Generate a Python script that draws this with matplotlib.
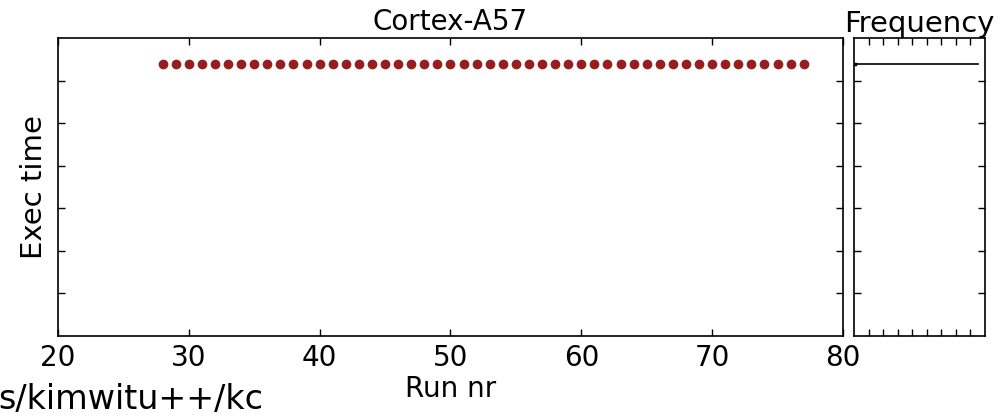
import numpy as np
import matplotlib
matplotlib.use("Agg")
import matplotlib.pyplot as plt

# data
run_nr = list(range(28, 78))
exec_time = [0.0638] * len(run_nr)
title = "Cortex-A57"
bench = "s/kimwitu++/kc"

dot_color = "#961e1e"

fig = plt.figure(figsize=(10.04, 4.2), dpi=100)
ax = fig.add_axes([58 / 1004, 84 / 420, 785 / 1004, 298 / 420])
axf = fig.add_axes([854 / 1004, 84 / 420, 131 / 1004, 298 / 420], sharey=ax)

ax.plot(run_nr, exec_time, "o", color=dot_color, markersize=7, markeredgewidth=0)
ax.set_xlim(20, 80)
ax.set_ylim(0, 0.07)
ax.set_yticks(np.arange(0.01, 0.07, 0.01))
ax.set_xticks(range(20, 81, 10))
ax.tick_params(direction="in", top=True, right=True, length=5, width=1, labelsize=20, pad=6)
ax.tick_params(axis="y", labelleft=False)
ax.set_title(title, fontsize=20, pad=6)
ax.set_xlabel("Run nr", fontsize=20, labelpad=2)
ax.set_ylabel("Exec time", fontsize=21, labelpad=7)

# frequency panel: all runs fall in one bin
count = len(exec_time)
axf.plot([0, count], [exec_time[0], exec_time[0]], color="black", lw=1.2)
axf.plot([0, 0.6], [exec_time[0], exec_time[0]], color="black", lw=2.5)
axf.set_xlim(0, count * 9 / 8.5)
axf.set_xticks(np.arange(1, 9) * count / 8.5)
axf.tick_params(direction="in", top=True, right=True, length=5, width=1,
                labelbottom=False, labelleft=False)
axf.set_title("Frequency", fontsize=21, pad=4)

for a in (ax, axf):
    for s in a.spines.values():
        s.set_linewidth(1.2)

fig.text(-0.002, 0.025, bench, fontsize=24, ha="left", va="baseline")

fig.savefig("out.png", dpi=100)
